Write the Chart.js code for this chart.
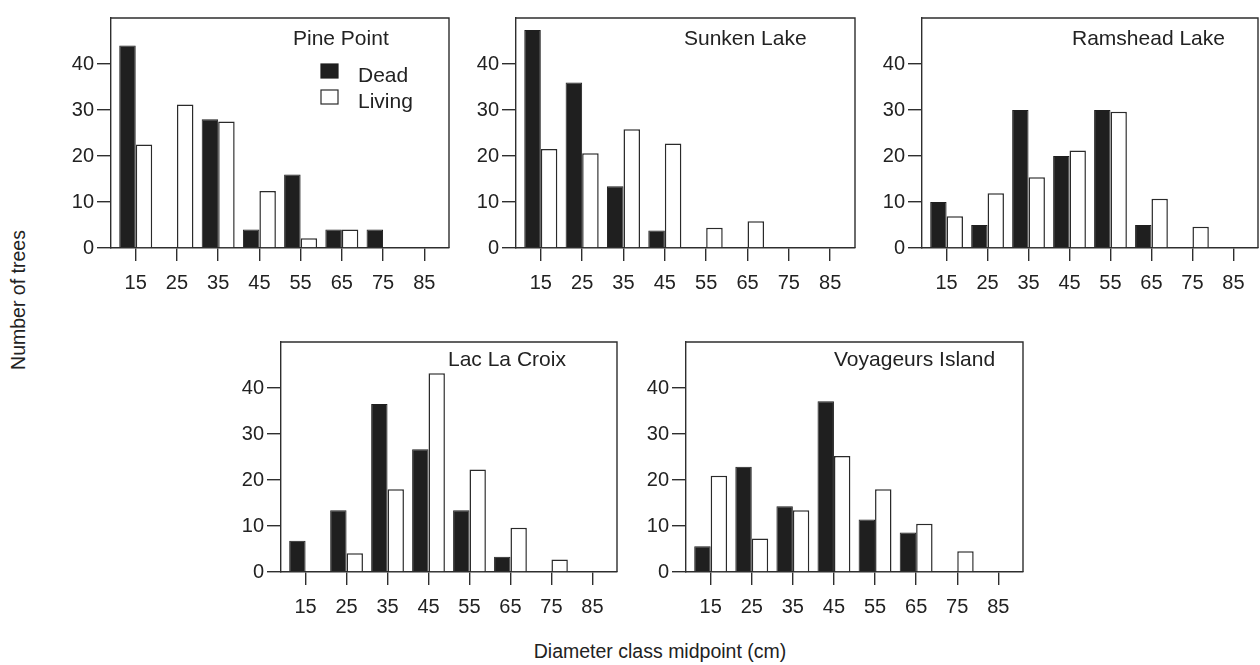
<!DOCTYPE html>
<html lang="en">
<head>
    <meta charset="UTF-8">
    <meta name="viewport" content="width=device-width, initial-scale=1.0">
    <title>Dead and living trees by diameter class</title>
    <script src="https://cdn.jsdelivr.net/npm/chart.js"></script>
    <style>
        body {
            margin: 0;
            background: #fff;
            font-family: 'Liberation Sans', Arial, sans-serif;
            color: #222;
        }
        .page {
            position: relative;
            width: 1260px;
            height: 665px;
            overflow: hidden;
        }
        .page canvas {
            position: absolute;
        }
        .y-title {
            position: absolute;
            left: 18px;
            top: 300px;
            transform: translate(-50%, -50%) rotate(-90deg);
            font-size: 19.5px;
            white-space: nowrap;
        }
        .x-title {
            position: absolute;
            left: 660px;
            top: 651px;
            transform: translate(-50%, -50%);
            font-size: 19.5px;
            white-space: nowrap;
        }
    </style>
</head>
<body>
    <div class="page" id="page">
        <div class="y-title">Number of trees</div>
        <div class="x-title">Diameter class midpoint (cm)</div>
    </div>

    <script>
        // diameter classes and axis ticks
        const classMid = [15, 25, 35, 45, 55, 65, 75, 85];
        const yTicks = [0, 10, 20, 30, 40];
        const seriesNames = ['Dead', 'Living'];
        const sites = ['Pine Point', 'Sunken Lake', 'Ramshead Lake', 'Lac La Croix', 'Voyageurs Island'];

        // number of trees per class
        const pineDead = [44, 0, 28, 4, 16, 4, 4, 0];
        const pineLiving = [22.5, 31.2, 27.5, 12.4, 2.1, 4, 0, 0];
        const sunkenDead = [47.4, 36, 13.4, 3.8, 0, 0, 0, 0];
        const sunkenLiving = [21.5, 20.6, 25.8, 22.7, 4.4, 5.8, 0, 0];
        const ramsDead = [10, 5, 30, 20, 30, 5, 0, 0];
        const ramsLiving = [6.9, 11.9, 15.4, 21.2, 29.6, 10.7, 4.6, 0];
        const lacDead = [6.8, 13.4, 36.5, 26.7, 13.4, 3.3, 0, 0];
        const lacLiving = [0, 4.1, 18, 43.2, 22.3, 9.6, 2.7, 0];
        const voyDead = [5.6, 22.9, 14.3, 37.1, 11.4, 8.6, 0, 0];
        const voyLiving = [20.9, 7.3, 13.4, 25.2, 18, 10.5, 4.5, 0];

        // panel boxes on the page: [left, top, right, bottom], title offset inside the box
        const panels = [
            { site: 0, dead: pineDead, living: pineLiving, box: [111, 5, 449, 248], title: [182, 27], legend: true },
            { site: 1, dead: sunkenDead, living: sunkenLiving, box: [516, 5, 855, 248], title: [168, 27] },
            { site: 2, dead: ramsDead, living: ramsLiving, box: [922, 5, 1258, 248], title: [150, 27] },
            { site: 3, dead: lacDead, living: lacLiving, box: [281, 329, 617, 572], title: [167, 24] },
            { site: 4, dead: voyDead, living: voyLiving, box: [686, 329, 1023, 572], title: [148, 24] }
        ];

        const Y_W = 44, X_H = 54, PAD = 2;
        const ink = '#222';
        const lineCol = '#2e2e2e';
        const fontFamily = "'Liberation Sans', Arial, sans-serif";

        Chart.defaults.font.family = fontFamily;
        Chart.defaults.color = ink;

        const page = document.getElementById('page');

        panels.forEach(p => {
            const [bl, bt, br, bb] = p.box;
            const canvas = document.createElement('canvas');
            canvas.width = br - bl + Y_W + PAD;
            canvas.height = bb - bt + PAD + X_H;
            canvas.style.left = (bl - Y_W) + 'px';
            canvas.style.top = (bt - PAD) + 'px';
            page.appendChild(canvas);

            // frame top/right edges, site name and legend
            const decor = {
                id: 'panelDecor',
                afterDraw(chart) {
                    const { ctx, chartArea: a } = chart;
                    ctx.save();
                    ctx.strokeStyle = lineCol;
                    ctx.lineWidth = 1.4;
                    ctx.beginPath();
                    ctx.moveTo(a.left, a.top);
                    ctx.lineTo(a.right, a.top);
                    ctx.lineTo(a.right, a.bottom);
                    ctx.stroke();

                    ctx.fillStyle = ink;
                    ctx.font = '21px ' + fontFamily;
                    ctx.textBaseline = 'alphabetic';
                    ctx.fillText(sites[p.site], a.left + p.title[0], a.top + p.title[1]);

                    if (p.legend) {
                        chart.data.datasets.forEach((ds, i) => {
                            const sy = a.top + 46 + i * 26;
                            ctx.fillStyle = ds.backgroundColor;
                            ctx.fillRect(a.left + 210, sy, 17, 14);
                            ctx.strokeStyle = ds.borderColor;
                            ctx.lineWidth = 1.2;
                            ctx.strokeRect(a.left + 210, sy, 17, 14);
                            ctx.fillStyle = ink;
                            ctx.fillText(ds.label, a.left + 247, sy + 17.5);
                        });
                    }
                    ctx.restore();
                }
            };

            new Chart(canvas, {
                type: 'bar',
                data: {
                    datasets: [
                        {
                            label: seriesNames[0],
                            data: classMid.map((x, i) => ({ x: x, y: p.dead[i] })),
                            backgroundColor: '#1f1f1f',
                            borderColor: '#1f1f1f',
                            borderWidth: 1
                        },
                        {
                            label: seriesNames[1],
                            data: classMid.map((x, i) => ({ x: x, y: p.living[i] })),
                            backgroundColor: '#ffffff',
                            borderColor: '#2a2a2a',
                            borderWidth: 1.5
                        }
                    ]
                },
                options: {
                    responsive: false,
                    animation: false,
                    events: [],
                    categoryPercentage: 0.8,
                    barPercentage: 1.0,
                    layout: { padding: { top: PAD, right: PAD, left: 0, bottom: 0 } },
                    plugins: {
                        legend: { display: false },
                        tooltip: { enabled: false }
                    },
                    scales: {
                        x: {
                            type: 'linear',
                            min: 9,
                            max: 91,
                            offset: false,
                            afterBuildTicks: s => { s.ticks = classMid.map(v => ({ value: v })); },
                            afterFit: s => { s.height = X_H; },
                            grid: { offset: false, drawOnChartArea: false, drawTicks: true, tickLength: 13, color: lineCol, lineWidth: 1.4 },
                            border: { display: true, color: lineCol, width: 1.4 },
                            ticks: { font: { size: 20 }, color: ink, padding: 10, maxRotation: 0 }
                        },
                        y: {
                            min: 0,
                            max: 50,
                            afterBuildTicks: s => { s.ticks = yTicks.map(v => ({ value: v })); },
                            afterFit: s => { s.width = Y_W; },
                            grid: { drawOnChartArea: false, drawTicks: true, tickLength: 14, color: lineCol, lineWidth: 1.4 },
                            border: { display: true, color: lineCol, width: 1.4 },
                            ticks: { font: { size: 20 }, color: ink, padding: 3 }
                        }
                    }
                },
                plugins: [decor]
            });
        });
    </script>
</body>
</html>
